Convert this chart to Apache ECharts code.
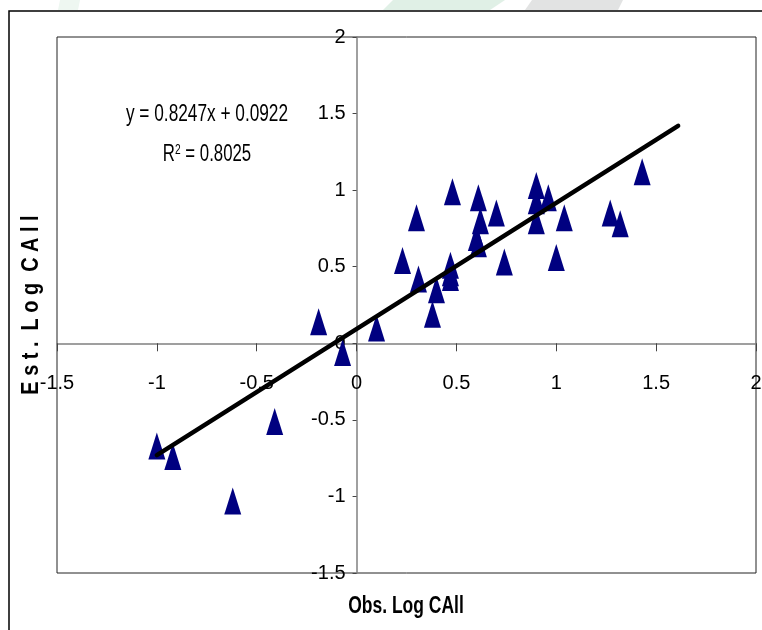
<!DOCTYPE html>
<html>
<head>
<meta charset="utf-8">
<script src="https://cdn.jsdelivr.net/npm/echarts@6/dist/echarts.min.js"></script>
<style>
  html, body { margin: 0; padding: 0; background: #fff; }
  #chart { width: 762px; height: 630px; }
</style>
</head>
<body>
<div id="chart"></div>
<script>
const obsLog = [-1.0, -0.92, -0.62, -0.41, -0.19, -0.07, 0.10, 0.23, 0.30, 0.31,
  0.38, 0.40, 0.47, 0.47, 0.47, 0.48, 0.61, 0.62, 0.60, 0.61,
  0.70, 0.74, 0.90, 0.90, 0.96, 0.90, 1.00, 1.04, 1.27, 1.32, 1.43];
const estLog = [-0.67, -0.74, -1.03, -0.51, 0.14, -0.06, 0.10, 0.54, 0.82, 0.42,
  0.19, 0.35, 0.51, 0.46, 0.43, 0.99, 0.95, 0.80, 0.69, 0.65,
  0.85, 0.53, 1.03, 0.93, 0.95, 0.80, 0.56, 0.82, 0.85, 0.78, 1.12];

// trendline end points
const trendX = [-1.0, 1.61];
const trendY = [-0.73, 1.42];

const eqText = 'y = 0.8247x + 0.0922';
const r2Value = ' = 0.8025';

const axisMin = -1.5, axisMax = 2;
const font = "'Liberation Sans', Arial, sans-serif";

// plot box
const W = 762, H = 630;
const gLeft = 57, gTop = 37, gRight = 6, gBottom = 57;
const plotW = W - gLeft - gRight, plotH = H - gTop - gBottom;

// the axes cross at zero, labels go with them
const xShift = plotW * (0 - axisMin) / (axisMax - axisMin);
const yShift = plotH * (0 - axisMin) / (axisMax - axisMin);

var chart = echarts.init(document.getElementById('chart'));

var points = obsLog.map(function (x, i) { return [x, estLog[i]]; });
var trend = trendX.map(function (x, i) { return [x, trendY[i]]; });

var option = {
  animation: false,
  backgroundColor: '#fff',
  grid: {
    left: gLeft,
    top: gTop,
    right: gRight,
    bottom: gBottom,
    show: true,
    borderColor: '#222',
    borderWidth: 1,
    outerBoundsMode: 'none'
  },
  xAxis: {
    type: 'value',
    min: axisMin,
    max: axisMax,
    interval: 0.5,
    offset: -yShift,
    axisLine: { onZero: false, lineStyle: { color: '#808080', width: 1.5 } },
    axisTick: { length: 8, lineStyle: { color: '#444' } },
    axisLabel: { margin: 30, color: '#000', fontSize: 20, fontFamily: font },
    splitLine: { show: false }
  },
  yAxis: {
    type: 'value',
    min: axisMin,
    max: axisMax,
    interval: 0.5,
    offset: -xShift,
    axisLine: { onZero: false, lineStyle: { color: '#808080', width: 1.5 } },
    axisTick: { length: 4, lineStyle: { color: '#444' } },
    axisLabel: { margin: 11, color: '#000', fontSize: 20, fontFamily: font },
    splitLine: { show: false }
  },
  series: [
    {
      type: 'scatter',
      data: points,
      symbol: 'triangle',
      symbolSize: [17, 27],
      itemStyle: { color: '#000080', opacity: 1 },
      z: 3
    },
    {
      type: 'line',
      data: trend,
      showSymbol: false,
      symbol: 'none',
      lineStyle: { color: '#000', width: 4.5, cap: 'round' },
      z: 4
    }
  ],
  graphic: [
    // faint banner shapes at the top edge
    { type: 'polygon', shape: { points: [[60, 0], [80, 0], [78, 10], [58, 10]] }, style: { fill: '#eef7f1' }, z: 0 },
    { type: 'polygon', shape: { points: [[393, 0], [505, 0], [490, 10], [383, 10]] }, style: { fill: '#e0f0e6' }, z: 0 },
    { type: 'polygon', shape: { points: [[532, 0], [623, 0], [618, 10], [525, 10]] }, style: { fill: '#e2e3e3' }, z: 0 },
    // outer frame
    { type: 'rect', shape: { x: 9, y: 11, width: 800, height: 700 }, style: { fill: 'none', stroke: '#000', lineWidth: 1.5 }, z: 1 },
    {
      type: 'text', x: 207, y: 115, scaleX: 0.75,
      style: { text: eqText, font: '23px ' + font, fill: '#000', textAlign: 'center', textVerticalAlign: 'middle' }
    },
    {
      type: 'text', x: 207, y: 155, scaleX: 0.73,
      style: {
        text: '{r|R}{s|2}{r|' + r2Value + '}',
        textAlign: 'center', textVerticalAlign: 'middle',
        rich: {
          r: { font: '23px ' + font, fill: '#000' },
          s: { font: '14px ' + font, fill: '#000', verticalAlign: 'top', padding: [0, 0, 9, 0] }
        }
      }
    },
    {
      type: 'text', x: 31, y: 305, rotation: Math.PI / 2, scaleX: 0.83,
      style: { text: 'E s t .  L o g  C A l l', font: 'bold 24px ' + font, fill: '#000', textAlign: 'center', textVerticalAlign: 'middle' }
    },
    {
      type: 'text', x: 406, y: 607, scaleX: 0.76,
      style: { text: 'Obs. Log CAll', font: 'bold 23px ' + font, fill: '#000', textAlign: 'center', textVerticalAlign: 'middle' }
    }
  ]
};

chart.setOption(option);
</script>
</body>
</html>
